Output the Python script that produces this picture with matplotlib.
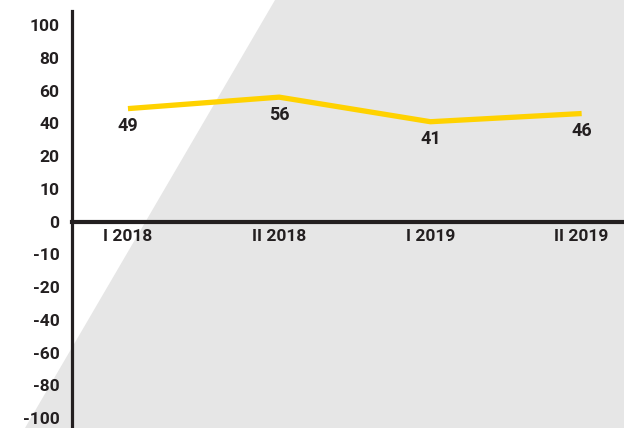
import numpy as np
import matplotlib
matplotlib.use("Agg")
import matplotlib.pyplot as plt
from matplotlib.patches import Polygon

# ---- data ----
categories = ["I 2018", "II 2018", "I 2019", "II 2019"]
values = [49, 56, 41, 46]
y_ticks = [100, 80, 60, 40, 20, 10, 0, -10, -20, -40, -60, -80, -100]
y_tick_labels = ["100", "80", "60", "40", "20", "10", "0", "-10", "-20", "-40", "-60", "-80", "-100"]

# ---- styles ----
dark = "#231f20"
gold = "#ffd200"
grey = "#e6e6e6"
font = "Roboto"

W, H = 624, 428
fig = plt.figure(figsize=(W / 100, H / 100), dpi=100, facecolor="white")

# background grey wedge in a background axes
bg = fig.add_axes([0, 0, 1, 1], zorder=-1)
bg.set_axis_off()
bg.set_xlim(0, 1)
bg.set_ylim(0, 1)
bg.add_patch(Polygon([(275 / W, 1), (1, 1), (1, 0), (25 / W, 0)], closed=True,
                     facecolor=grey, edgecolor="none"))

ax = fig.add_axes([72 / W, 0, 1 - 72 / W, 1 - 11 / H])
ax.set_facecolor("none")

# evenly spaced, non-linear y scale
asc = np.array(sorted(y_ticks), dtype=float)
pos = np.arange(len(asc), dtype=float)

def fwd(v):
    v = np.asarray(v, dtype=float)
    lo = np.interp(v, asc, pos)
    lo = np.where(v > asc[-1], pos[-1] + (v - asc[-1]) / 20.0, lo)
    lo = np.where(v < asc[0], pos[0] + (v - asc[0]) / 20.0, lo)
    return lo

def inv(p):
    p = np.asarray(p, dtype=float)
    v = np.interp(p, pos, asc)
    v = np.where(p > pos[-1], asc[-1] + (p - pos[-1]) * 20.0, v)
    v = np.where(p < pos[0], asc[0] + (p - pos[0]) * 20.0, v)
    return v

ax.set_yscale("function", functions=(fwd, inv))
ax.set_ylim(inv(-0.3), inv(12.43))

ax.spines["top"].set_visible(False)
ax.spines["right"].set_visible(False)
ax.spines["bottom"].set_position(("data", 0))
ax.spines["bottom"].set_linewidth(3)
ax.spines["bottom"].set_color(dark)
ax.spines["left"].set_linewidth(2.3)
ax.spines["left"].set_color(dark)

x = np.arange(len(categories))
ax.plot(x, values, color=gold, lw=3.8, solid_capstyle="butt", zorder=3)
for xi, v in zip(x, values):
    ax.annotate(str(v), (xi, v), xytext=(0, -12.5), textcoords="offset points",
                ha="center", va="center", fontsize=13, fontweight="bold",
                color=dark, family=font)

ax.set_xlim(-0.37, 3.28)
ax.set_xticks(x, labels=categories)
ax.set_yticks(y_ticks, labels=y_tick_labels)

for lab in ax.get_xticklabels() + ax.get_yticklabels():
    lab.set_fontfamily(font)
    lab.set_fontweight("bold")
    lab.set_fontsize(12.5)
    lab.set_color(dark)

ax.tick_params(axis="both", length=0)
ax.tick_params(axis="y", pad=9)
ax.tick_params(axis="x", pad=5)

fig.savefig("out.png", dpi=100, facecolor="white")
